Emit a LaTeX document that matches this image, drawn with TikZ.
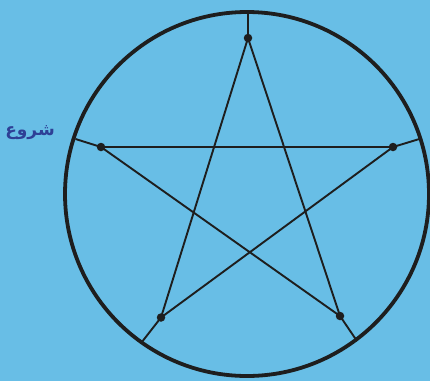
\documentclass[tikz,border=0pt]{standalone}
\usepackage{fontspec}
\TeXXeTstate=1
\newfontfamily\arabicfont[Script=Arabic]{DejaVu Sans}
\definecolor{bgblue}{RGB}{104,190,230}
\definecolor{txtblue}{RGB}{46,64,150}
\definecolor{inkc}{RGB}{30,30,30}
\tikzset{
  ring/.style={draw=inkc, line width=3.8pt},
  edge/.style={draw=inkc, line width=1.9pt},
  vdot/.style={circle, fill=inkc, inner sep=0pt, minimum size=8.5pt},
  lbl/.style={text=txtblue, font=\arabicfont\bfseries\fontsize{17}{19}\selectfont}
}
\begin{document}
\begin{tikzpicture}[x=1pt,y=-1pt]
\fill[bgblue] (0,0) rectangle (430,381);
\useasboundingbox (0,0) rectangle (430,381);
\coordinate (c) at (247,194);
\draw[ring] (c) circle[radius=182];
\node[vdot] (t) at (248,38) {};
\node[vdot] (l) at (101,147) {};
\node[vdot] (r) at (393,147) {};
\node[vdot] (bl) at (161,317.5) {};
\node[vdot] (br) at (340,316) {};
\coordinate (et) at (248,11);
\coordinate (el) at (75.5,139);
\coordinate (er) at (421,138.5);
\coordinate (ebl) at (141.5,342.5);
\coordinate (ebr) at (357,341);
\draw[edge] (t.center) -- (bl.center) -- (r.center) -- (l.center) -- (br.center) -- cycle;
\draw[edge] (t.center) -- (et);
\draw[edge] (l.center) -- (el);
\draw[edge] (r.center) -- (er);
\draw[edge] (bl.center) -- (ebl);
\draw[edge] (br.center) -- (ebr);
\node[lbl] (s) at (30,133) {\beginR شروع\endR};
\end{tikzpicture}
\end{document}
